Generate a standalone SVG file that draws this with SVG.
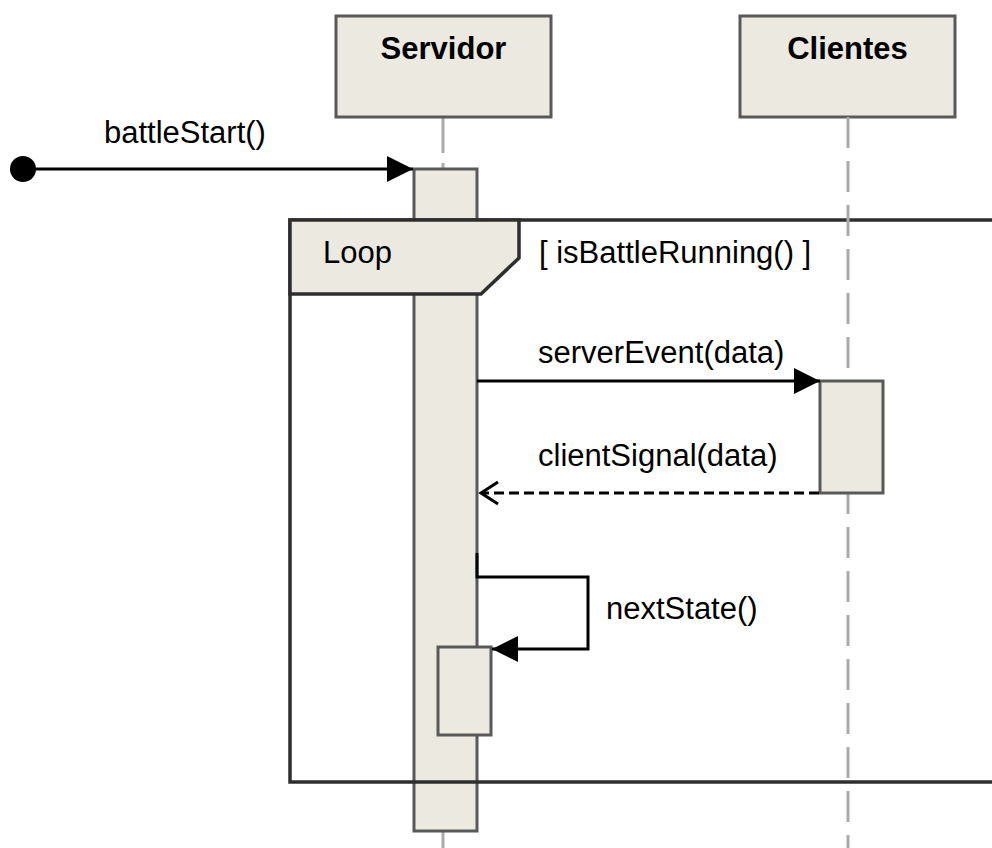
<svg xmlns="http://www.w3.org/2000/svg" width="992" height="848" viewBox="0 0 992 848">
<style>
.box{fill:#ECEAE0;stroke:#595959;stroke-width:3}
.frame{fill:none;stroke:#2E2E2E;stroke-width:3.5}
.life{stroke:#AAAAAA;stroke-width:3;fill:none}
.msg{stroke:#000;stroke-width:3;fill:none}
.t{font-family:"Liberation Sans",Arial,sans-serif;font-size:31px;fill:#000}
.tb{font-family:"Liberation Sans",Arial,sans-serif;font-size:31px;font-weight:bold;fill:#000}
</style>
<defs>
<marker id="filled" markerWidth="26" markerHeight="26" viewBox="0 0 26 26" refX="26" refY="13" orient="auto" markerUnits="userSpaceOnUse">
<path d="M0,0 L26,13 L0,26 Z" fill="#000"/>
</marker>
<marker id="open" markerWidth="22" markerHeight="26" viewBox="0 0 22 26" refX="19" refY="13" orient="auto" markerUnits="userSpaceOnUse">
<path d="M2,2 L19,13 L2,24" fill="none" stroke="#000" stroke-width="3"/>
</marker>
</defs>

<g id="lifelines">
<line class="life" x1="443" y1="117" x2="443" y2="169" stroke-dasharray="36 10"/>
<line class="life" x1="443" y1="831" x2="443" y2="848"/>
</g>

<g id="servidor">
<rect class="box" x="336" y="16" width="215" height="101"/>
<text class="tb" x="443.5" y="59" text-anchor="middle">Servidor</text>
</g>

<g id="clientes">
<rect class="box" x="740" y="16" width="215" height="101"/>
<text class="tb" x="847.5" y="59" text-anchor="middle">Clientes</text>
</g>

<g id="servidor-activation">
<rect class="box" x="414" y="169" width="63" height="662"/>
</g>

<g id="loop">
<rect class="frame" x="290" y="220" width="720" height="562"/>
<path d="M290,220 L519,220 L519,258 L481,294 L290,294 Z" fill="#ECEAE0" stroke="#2E2E2E" stroke-width="3.5"/>
<text class="t" x="323" y="263">Loop</text>
<text class="t" x="539" y="263">[ isBattleRunning() ]</text>
</g>

<g id="clientes-lifeline">
<line class="life" x1="848" y1="117" x2="848" y2="381" stroke-dasharray="31 13"/>
<line class="life" x1="848" y1="493" x2="848" y2="848" stroke-dasharray="31 13" stroke-dashoffset="10"/>
</g>

<g id="clientes-activation">
<rect class="box" x="820" y="381" width="63" height="112"/>
</g>

<g id="servidor-self-activation">
<rect class="box" x="438" y="647" width="53" height="88"/>
</g>

<g id="start">
<circle cx="23" cy="169" r="13" fill="#000"/>
</g>

<g id="connectors">
<line class="msg" x1="23" y1="169" x2="413" y2="169" marker-end="url(#filled)"/>
<text class="t" x="104" y="143">battleStart()</text>
<line class="msg" x1="477" y1="381" x2="820" y2="381" marker-end="url(#filled)"/>
<text class="t" x="538" y="363">serverEvent(data)</text>
<line class="msg" x1="819" y1="493" x2="481" y2="493" stroke-dasharray="10 5" marker-end="url(#open)"/>
<text class="t" x="538" y="466">clientSignal(data)</text>
<path class="msg" d="M477,553 L477,577 L588,577 L588,649 L492,649" marker-end="url(#filled)"/>
<text class="t" x="606" y="619">nextState()</text>
</g>
</svg>
